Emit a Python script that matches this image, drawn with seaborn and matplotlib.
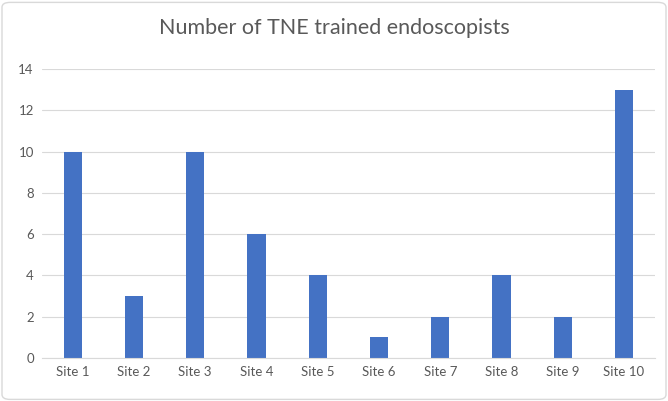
import matplotlib.pyplot as plt
import seaborn as sns
import pandas as pd
from matplotlib.patches import FancyBboxPatch

# ========== Data ========== #
sites = ["Site 1", "Site 2", "Site 3", "Site 4", "Site 5",
         "Site 6", "Site 7", "Site 8", "Site 9", "Site 10"]
endoscopists = [10, 3, 10, 6, 4, 1, 2, 4, 2, 13]

df = pd.DataFrame({"Site": sites, "Count": endoscopists})

sns.set_style("white")
plt.rcParams["font.family"] = ["Lato", "DejaVu Sans"]

text_grey = "#595959"

fig = plt.figure(figsize=(6.68, 4.01), dpi=100)
ax = fig.add_axes([0.063, 0.107, 0.917, 0.721])

sns.barplot(data=df, x="Site", y="Count", color="#4472C4", width=0.3,
            saturation=1, linewidth=0, ax=ax)

ax.set_ylim(0, 14)
ax.set_yticks(range(0, 15, 2))
ax.set_xlim(-0.5, len(sites) - 0.5)
ax.yaxis.grid(True, color="#D9D9D9", linewidth=0.8)
ax.set_axisbelow(True)
for side in ["top", "right", "left"]:
    ax.spines[side].set_visible(False)
ax.spines["bottom"].set_color("#D9D9D9")
ax.tick_params(axis="both", length=0, labelsize=9.5, colors=text_grey, pad=6)
ax.set_xlabel("")
ax.set_ylabel("")

fig.suptitle("Number of TNE trained endoscopists", x=0.5, y=0.955,
             fontsize=15.5, color=text_grey)

# chart border
border = FancyBboxPatch((0.003, 0.004), 0.994, 0.99,
                        boxstyle="round,pad=0,rounding_size=0.012",
                        transform=fig.transFigure, fill=False,
                        edgecolor="#D9D9D9", linewidth=1)
fig.patches.append(border)

fig.savefig("out.png", dpi=100)
